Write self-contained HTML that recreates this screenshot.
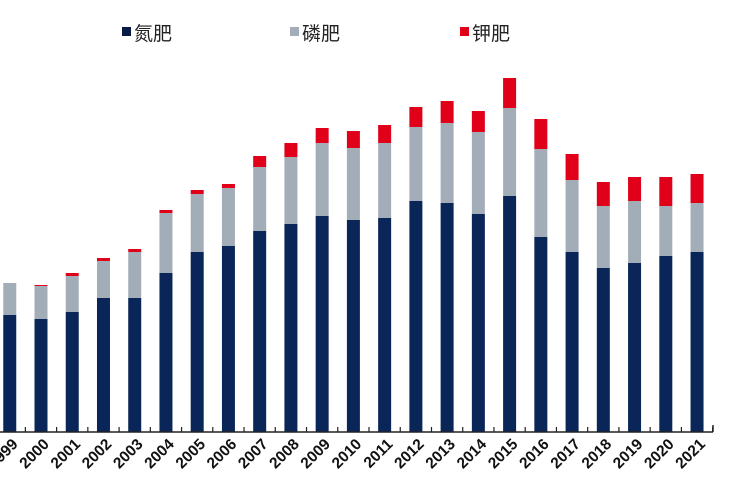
<!DOCTYPE html>
<html><head><meta charset="utf-8"><style>
body{margin:0;background:#fff;}
svg{display:block;font-family:"Liberation Sans","Noto Sans CJK SC",sans-serif;}
</style></head><body>
<svg width="750" height="500" xmlns="http://www.w3.org/2000/svg">
<rect width="750" height="500" fill="#fff"/>
<rect x="122" y="27" width="9" height="9" fill="#0a1a45"/>
<text x="134" y="40" font-size="19" fill="#222">氮肥</text>
<rect x="290" y="27" width="9" height="9" fill="#a3adb8"/>
<text x="302" y="40" font-size="19" fill="#222">磷肥</text>
<rect x="460" y="27" width="9" height="9" fill="#e0001a"/>
<text x="472" y="40" font-size="19" fill="#222">钾肥</text>
<g id="bars"></g>
<line x1="0" y1="432" x2="713" y2="432" stroke="#222" stroke-width="1.5"/>
<line x1="713" y1="425" x2="713" y2="432" stroke="#222" stroke-width="1.5"/>
<g id="ticks"></g>
<g id="labels" font-size="15.5" font-weight="bold" fill="#111"></g>
</svg>
<script>
var d=[[315,283,283],[319,286,285],[312,276,273],[298,261,258],[298,252,249],[273,213,210],[252,194,190],[246,188,184],[231,167,156],[224,157,143],[216,143,128],[220,148,131],[218,143,125],[201,127,107],[203,123,101],[214,132,111],[196,108,78],[237,149,119],[252,180,154],[268,206,182],[263,201,177],[256,206,177],[252,203,174]];
var ns="http://www.w3.org/2000/svg";
function r(g,x,y,w,h,c){var e=document.createElementNS(ns,"rect");e.setAttribute("x",x);e.setAttribute("y",y);e.setAttribute("width",w);e.setAttribute("height",h);e.setAttribute("fill",c);g.appendChild(e);}
var B=document.getElementById("bars"),T=document.getElementById("ticks"),L=document.getElementById("labels");
for(var i=0;i<d.length;i++){
 var c=41+31.24*(i-1),x=c-6.5,v=d[i];
 r(B,x,v[2],13,v[1]-v[2],"#e0001a");
 r(B,x,v[1],13,v[0]-v[1],"#a3adb8");
 r(B,x,v[0],13,432-v[0],"#0a2558");
 r(T,c+15.6-0.6,427,1.2,5,"#222");
 var t=document.createElementNS(ns,"text");
 t.setAttribute("transform","translate("+(c+9)+",445) rotate(-45)");
 t.setAttribute("text-anchor","end");t.textContent=String(1999+i);L.appendChild(t);
}
</script>
</body></html>
